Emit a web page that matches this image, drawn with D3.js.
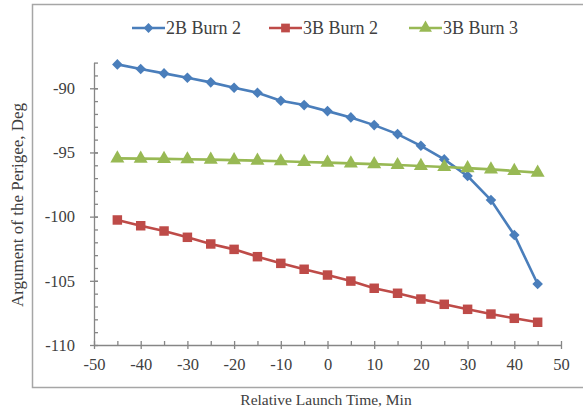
<!DOCTYPE html>
<html>
<head>
<meta charset="utf-8">
<script src="https://cdn.jsdelivr.net/npm/d3@7"></script>
<style>
  body { margin: 0; background: #fff; }
  text { font-family: "Liberation Serif", "Times New Roman", serif; fill: #404040; }
</style>
</head>
<body>
<div id="chart"></div>
<script>
// launch times (min)
var times = [-45, -40, -35, -30, -25, -20, -15, -10, -5, 0, 5, 10, 15, 20, 25, 30, 35, 40, 45];

// argument of perigee (deg)
var burn2B2 = [-88.14, -88.50, -88.84, -89.18, -89.54, -89.96, -90.35, -90.97, -91.31, -91.78,
               -92.27, -92.87, -93.57, -94.48, -95.54, -96.84, -98.71, -101.43, -105.25];
var burn3B2 = [-100.26, -100.71, -101.12, -101.61, -102.13, -102.55, -103.12, -103.64, -104.10, -104.55,
               -105.02, -105.58, -105.97, -106.42, -106.83, -107.22, -107.59, -107.92, -108.23];
var burn3B3 = [-95.46, -95.48, -95.50, -95.53, -95.56, -95.60, -95.64, -95.69, -95.74, -95.79,
               -95.85, -95.91, -95.98, -96.05, -96.13, -96.22, -96.32, -96.44, -96.57];

var seriesNames = ["2B Burn 2", "3B Burn 2", "3B Burn 3"];
var xTicks = [-50, -40, -30, -20, -10, 0, 10, 20, 30, 40, 50];
var yTicks = [-110, -105, -100, -95, -90];

var W = 583, H = 411;
var margin = {top: 62.6, right: 22, bottom: 66, left: 94};

var svg = d3.select("#chart")
  .append("svg")
    .attr("width", W)
    .attr("height", H);

// outer frame
svg.append("rect")
  .attr("x", 32.5).attr("y", 4.5)
  .attr("width", 560).attr("height", 383)
  .attr("fill", "none")
  .attr("stroke", "#a6a6a6")
  .attr("stroke-width", 1.5);

var x = d3.scaleLinear().domain([-50, 50]).range([margin.left, 561]);
var y = d3.scaleLinear().domain([-110, -88]).range([345, margin.top]);

var axisColor = "#868686";

// x axis - minor ticks (inside)
var xMinor = svg.append("g")
  .attr("transform", "translate(0," + y(-110) + ")")
  .call(d3.axisBottom(x).tickValues(d3.range(-45, 50, 10)).tickSize(-4).tickSizeOuter(0).tickFormat(""));
xMinor.select(".domain").remove();

// x axis - major ticks (crossing)
var xAxis = svg.append("g")
  .attr("transform", "translate(0," + y(-110) + ")")
  .call(d3.axisBottom(x).tickValues(xTicks).tickSize(4).tickSizeOuter(0).tickPadding(9)
    .tickFormat(function(d) { return String(d); }));
xAxis.selectAll(".tick line").attr("y1", -4);

// y axis - minor ticks (inside)
var yMinor = svg.append("g")
  .attr("transform", "translate(" + x(-50) + ",0)")
  .call(d3.axisLeft(y).tickValues(d3.range(-109, -87, 1)).tickSize(-4).tickSizeOuter(0).tickFormat(""));
yMinor.select(".domain").remove();

var yAxis = svg.append("g")
  .attr("transform", "translate(" + x(-50) + ",0)")
  .call(d3.axisLeft(y).tickValues(yTicks).tickSize(4).tickSizeOuter(0).tickPadding(15)
    .tickFormat(function(d) { return String(d); }));
yAxis.selectAll(".tick line").attr("x1", 4);

svg.selectAll(".domain, .tick line")
  .attr("stroke", axisColor)
  .attr("stroke-width", 1.3);
svg.selectAll(".tick text")
  .style("font-size", "16.5px")
  .style("font-family", "'Liberation Serif', serif")
  .attr("fill", "#404040");

// axis titles
svg.append("text")
  .attr("x", 326).attr("y", 405)
  .attr("text-anchor", "middle")
  .style("font-size", "15.5px")
  .text("Relative Launch Time, Min");

svg.append("text")
  .attr("transform", "translate(23," + 205 + ") rotate(-90)")
  .attr("text-anchor", "middle")
  .style("font-size", "17px")
  .text("Argument of the Perigee, Deg");

// series
var colors = ["#4a7ebb", "#be4b48", "#98b954"];
var symbols = [d3.symbolSquare, d3.symbolSquare, d3.symbolTriangle];
var symSizes = [56, 90, 85];
var symRotate = [45, 0, 0];
var allSeries = [burn2B2, burn3B2, burn3B3];

var line = d3.line()
  .x(function(d) { return x(d.t); })
  .y(function(d) { return y(d.v); });

allSeries.forEach(function(vals, i) {
  var pts = times.map(function(t, j) { return {t: t, v: vals[j]}; });
  svg.append("path")
    .datum(pts)
    .attr("fill", "none")
    .attr("stroke", colors[i])
    .attr("stroke-width", 2.6)
    .attr("d", line);
  svg.selectAll(".m" + i)
    .data(pts)
    .enter()
    .append("path")
      .attr("class", "m" + i)
      .attr("transform", function(d) {
        return "translate(" + x(d.t) + "," + y(d.v) + ") rotate(" + symRotate[i] + ")";
      })
      .attr("d", d3.symbol().type(symbols[i]).size(symSizes[i]))
      .attr("fill", colors[i]);
});

// legend
var legendX = [132, 269, 409];
seriesNames.forEach(function(name, i) {
  var g = svg.append("g").attr("transform", "translate(" + legendX[i] + ",28)");
  g.append("line")
    .attr("x1", 0).attr("x2", 33)
    .attr("stroke", colors[i]).attr("stroke-width", 2.6);
  g.append("path")
    .attr("transform", "translate(16.5,0) rotate(" + symRotate[i] + ")")
    .attr("d", d3.symbol().type(symbols[i]).size(symSizes[i] * 0.85))
    .attr("fill", colors[i]);
  g.append("text")
    .attr("x", 34).attr("y", 6)
    .style("font-size", "18px")
    .text(name);
});
</script>
</body>
</html>
